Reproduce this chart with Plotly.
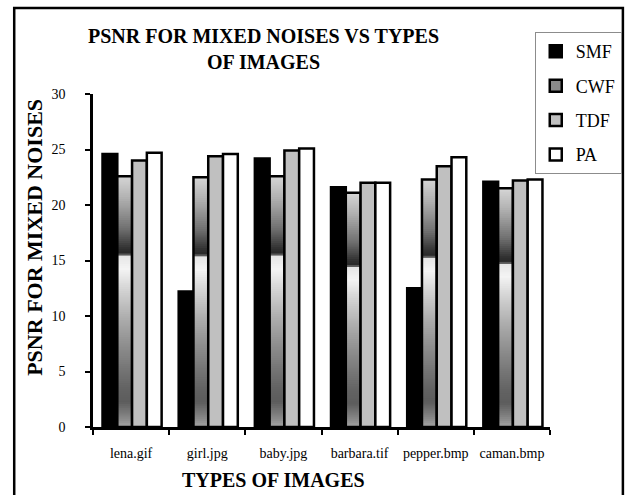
import numpy as np
import plotly.graph_objects as go

# PSNR (dB) of each filter on each test image, mixed noise
images = ["lena.gif", "girl.jpg", "baby.jpg", "barbara.tif", "pepper.bmp", "caman.bmp"]
smf = [24.6, 12.2, 24.2, 21.6, 12.5, 22.1]
cwf = [22.6, 22.5, 22.6, 21.1, 22.3, 21.5]
tdf = [24.0, 24.4, 24.9, 22.0, 23.5, 22.2]
pa = [24.7, 24.6, 25.1, 22.0, 24.3, 22.3]
y_ticks = [0, 5, 10, 15, 20, 25, 30]

FONT = "Liberation Serif, Times New Roman, serif"
BAR_W = 0.194
OFFSETS = {"SMF": -0.375, "CWF": -0.181, "TDF": 0.013, "PA": 0.207}
EDGE = dict(color="black", width=2.5)

# grey-level profile of the CWF fill, as a function of the fraction of bar height
grad_f = [0.0, 0.03, 0.10, 0.16, 0.30, 0.43, 0.55, 0.63, 0.68, 0.69, 0.71, 0.79, 0.91, 1.0]
grad_v = [165, 140, 92, 100, 135, 172, 212, 244, 230, 40, 48, 112, 176, 214]

fig = go.Figure()

fig.add_trace(go.Bar(name="SMF", x=images, y=smf, offset=OFFSETS["SMF"], width=BAR_W,
                     marker=dict(color="black", line=EDGE), legendgroup="SMF", legendrank=1))

# CWF: gradient built from thin stacked slices of each bar, then outlined
n_slices = 120
fr = np.linspace(0.0, 1.0, n_slices + 1)
sx, sbase, sh, scol = [], [], [], []
for img, v in zip(images, cwf):
    for i in range(n_slices):
        mid = 0.5 * (fr[i] + fr[i + 1])
        g = int(round(np.interp(mid, grad_f, grad_v)))
        sx.append(img)
        sbase.append(v * fr[i])
        sh.append(v * (fr[i + 1] - fr[i]) * (1.6 if i < n_slices - 1 else 1.0))
        scol.append(f"rgb({g},{g},{g})")
fig.add_trace(go.Bar(x=sx, y=sh, base=sbase, offset=OFFSETS["CWF"], width=BAR_W,
                     marker=dict(color=scol, line=dict(width=0)), showlegend=False,
                     legendgroup="CWF", hoverinfo="skip"))
fig.add_trace(go.Bar(x=images, y=cwf, offset=OFFSETS["CWF"], width=BAR_W,
                     marker=dict(color="rgba(0,0,0,0)", line=EDGE), showlegend=False,
                     legendgroup="CWF"))
fig.add_trace(go.Bar(name="CWF", x=images, y=[None] * len(images), offset=OFFSETS["CWF"],
                     width=BAR_W, marker=dict(color="#8a8a8a", line=EDGE),
                     legendgroup="CWF", legendrank=2))

fig.add_trace(go.Bar(name="TDF", x=images, y=tdf, offset=OFFSETS["TDF"], width=BAR_W,
                     marker=dict(color="#c0c0c0", line=EDGE), legendgroup="TDF", legendrank=3))
fig.add_trace(go.Bar(name="PA", x=images, y=pa, offset=OFFSETS["PA"], width=BAR_W,
                     marker=dict(color="white", line=EDGE), legendgroup="PA", legendrank=4))

fig.update_layout(
    width=634, height=495, autosize=False,
    margin=dict(l=93, r=77, t=94, b=68, pad=0),
    barmode="overlay",
    paper_bgcolor="white", plot_bgcolor="white",
    font=dict(family=FONT, color="black", size=14),
    showlegend=True,
    legend=dict(x=1.157, xanchor="right", y=1.186, yanchor="top",
                bgcolor="white", bordercolor="#8c8c8c", borderwidth=1,
                font=dict(family=FONT, size=18, color="black"),
                traceorder="grouped", tracegroupgap=8, itemwidth=30),
    xaxis=dict(range=[-0.5, 5.5], showline=True, linecolor="black", linewidth=2.5,
               ticks="outside", tickson="boundaries", ticklen=5, tickwidth=2,
               tickcolor="black", showgrid=False, zeroline=False,
               tickfont=dict(family=FONT, size=14), ticklabelstandoff=11),
    yaxis=dict(range=[0, 30], tickvals=y_ticks, showline=True, linecolor="black",
               linewidth=2.5, ticks="outside", ticklen=5, tickwidth=2, tickcolor="black",
               showgrid=False, zeroline=False,
               tickfont=dict(family=FONT, size=14), ticklabelstandoff=17),
    annotations=[
        dict(text="<b>PSNR FOR MIXED NOISES VS TYPES<br>OF IMAGES</b>", xref="paper",
             yref="paper", x=0.373, y=1.134, xanchor="center", yanchor="middle",
             showarrow=False, font=dict(family=FONT, size=20)),
        dict(text="<b>PSNR FOR MIXED NOISES</b>", xref="paper", yref="paper",
             x=-0.127, y=0.571, xanchor="center", yanchor="middle", textangle=-90,
             showarrow=False, font=dict(family=FONT, size=22)),
        dict(text="<b>TYPES OF IMAGES</b>", xref="paper", yref="paper",
             x=0.395, y=-0.16, xanchor="center", yanchor="middle",
             showarrow=False, font=dict(family=FONT, size=20)),
    ],
    shapes=[
        dict(type="rect", xref="paper", yref="paper", x0=-0.1724, x1=1.1595,
             y0=-0.25, y1=1.258, line=dict(color="black", width=2.5), layer="below"),
    ],
)

fig.write_html("out.html")
